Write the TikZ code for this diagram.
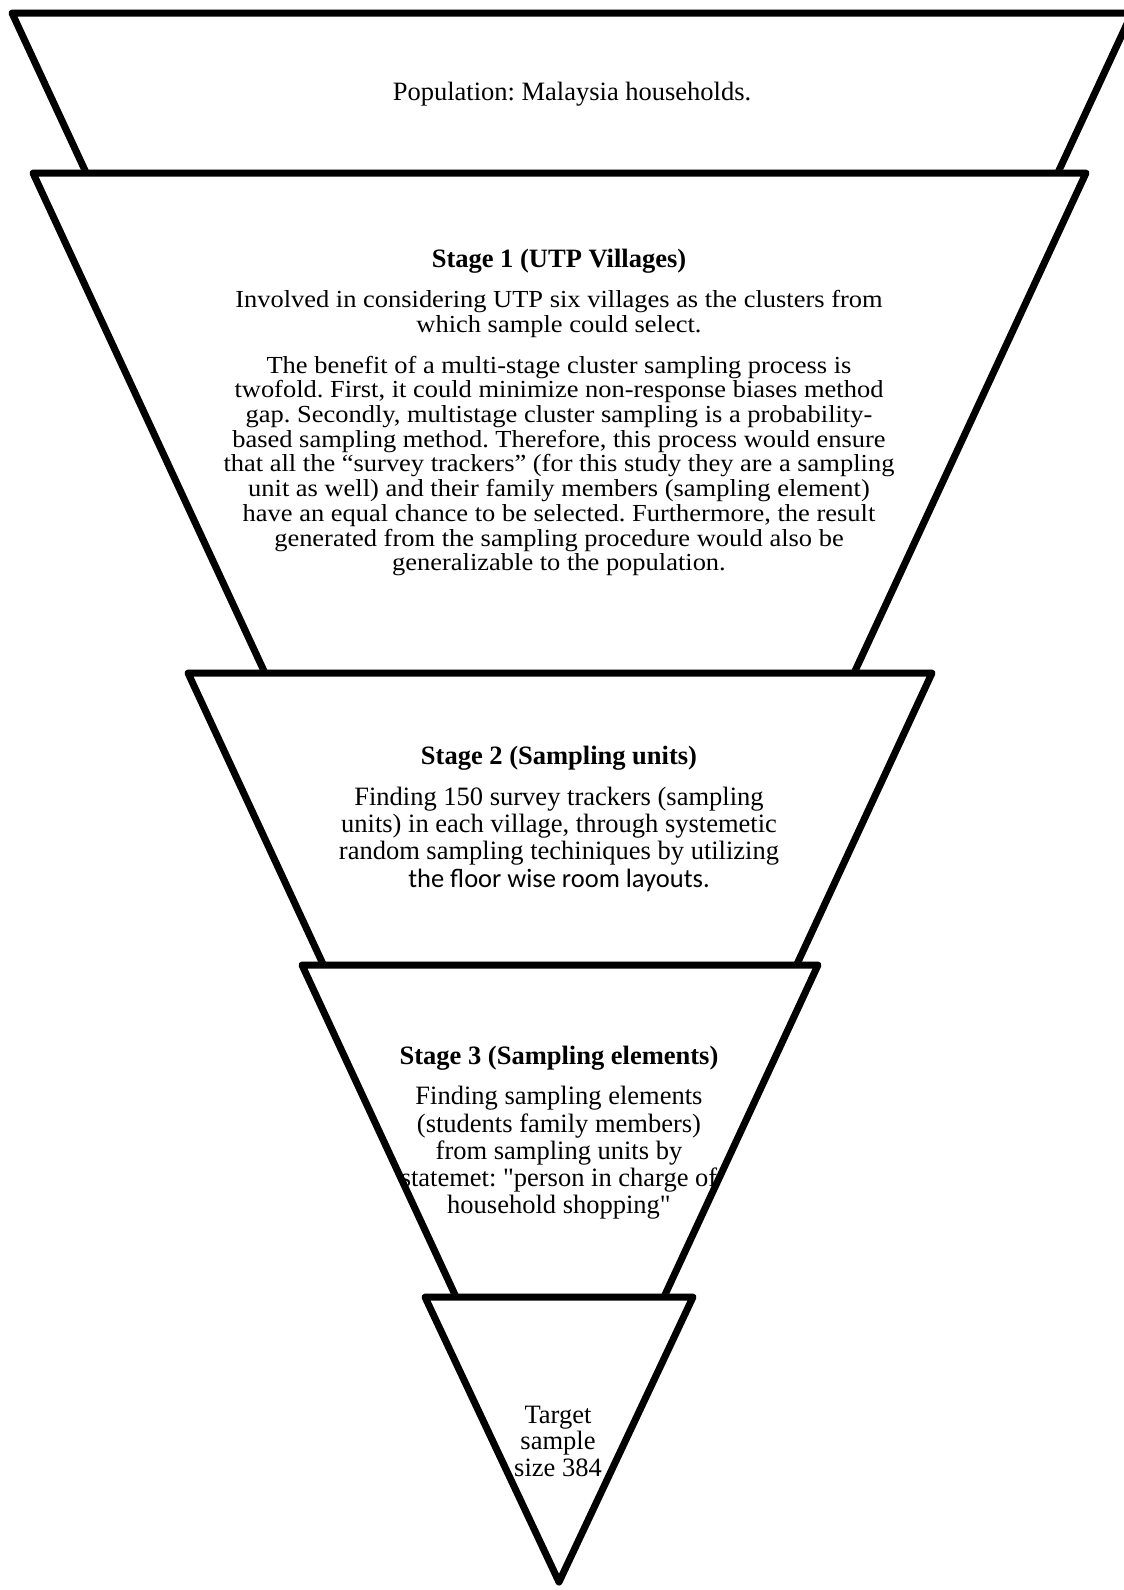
\documentclass[tikz,border=0pt]{standalone}
\usepackage{fontspec}
\setmainfont{Liberation Serif}[Ligatures=TeXOff]
\newfontfamily\wideserif{Liberation Serif}[Ligatures=TeXOff,FakeStretch=1.08]
\newfontfamily\sanslayout{Carlito}
\frenchspacing
\begin{document}
\begin{tikzpicture}[x=1pt,y=-1pt,
  layerfill/.style={fill=white},
  layeredge/.style={draw=black,line width=7pt,line join=round},
  layershadow/.style={draw=black!35,fill=black!35,line width=7pt,line join=round,opacity=0.35},
  bodytext/.style={font=\fontsize{26.5}{24.7}\selectfont,align=center,inner sep=0pt},
  densetext/.style={font=\wideserif\fontsize{24.5}{24.7}\selectfont,align=center,inner sep=0pt},
  widetext/.style={font=\fontsize{26.5}{27.3}\selectfont,align=center,inner sep=0pt},
  headtext/.style={font=\fontsize{26.5}{27.3}\selectfont\bfseries,align=center,inner sep=0pt}]
\useasboundingbox (0,0) rectangle (1124,1590);

% corner points of the five stacked funnel layers
\coordinate (t1l) at (12,13);   \coordinate (t1r) at (1132,13); \coordinate (t1b) at (572,1220);
\coordinate (t2l) at (33,173);  \coordinate (t2r) at (1086,173); \coordinate (t2b) at (559.5,1308);
\coordinate (t3l) at (188,673); \coordinate (t3r) at (932,673);  \coordinate (t3b) at (560,1475);
\coordinate (t4l) at (302,965); \coordinate (t4r) at (818,965);  \coordinate (t4b) at (560,1521);
\coordinate (t5l) at (425,1297); \coordinate (t5r) at (693,1297); \coordinate (t5b) at (559,1582);

% layer 1: population
\path[layershadow,shift={(2.5,2.5)}] (t1l) -- (t1r) -- (t1b) -- cycle;
\path[layerfill] (t1l) -- (t1r) -- (t1b) -- cycle;
\node[bodytext] (pop) at (572,94) {Population: Malaysia households.};
\path[layeredge] (t1l) -- (t1r) -- (t1b) -- cycle;

% layer 2: stage 1
\path[layershadow,shift={(2.5,2.5)}] (t2l) -- (t2r) -- (t2b) -- cycle;
\path[layerfill] (t2l) -- (t2r) -- (t2b) -- cycle;
\node[headtext] (s1head) at (559,261) {Stage 1 (UTP Villages)};
\node[densetext] (s1a) at (559,314) {Involved in considering UTP six villages as the clusters from\\which sample could select.};
\node[densetext] (s1b) at (559,466) {The benefit of a multi-stage cluster sampling process is\\
twofold. First, it could minimize non-response biases method\\
gap. Secondly, multistage cluster sampling is a probability-\\
based sampling method. Therefore, this process would ensure\\
that all the “survey trackers” (for this study they are a sampling\\
unit as well) and their family members (sampling element)\\
have an equal chance to be selected. Furthermore, the result\\
generated from the sampling procedure would also be\\
generalizable to the population.};
\path[layeredge] (t2l) -- (t2r) -- (t2b) -- cycle;

% layer 3: stage 2
\path[layershadow,shift={(2.5,2.5)}] (t3l) -- (t3r) -- (t3b) -- cycle;
\path[layerfill] (t3l) -- (t3r) -- (t3b) -- cycle;
\node[headtext] (s2head) at (559,758) {Stage 2 (Sampling units)};
\node[widetext] (s2text) at (559,839) {Finding 150 survey trackers (sampling\\
units) in each village, through systemetic\\
random sampling techiniques by utilizing\\
{\sanslayout the floor wise room layouts.}};
\path[layeredge] (t3l) -- (t3r) -- (t3b) -- cycle;

% layer 4: stage 3
\path[layershadow,shift={(2.5,2.5)}] (t4l) -- (t4r) -- (t4b) -- cycle;
\path[layerfill] (t4l) -- (t4r) -- (t4b) -- cycle;
\node[headtext] (s3head) at (559,1058) {Stage 3 (Sampling elements)};
\node[widetext] (s3text) at (559,1153) {Finding sampling elements\\
(students family members)\\
from sampling units by\\
statemet: "person in charge of\\
household shopping"};
\path[layeredge] (t4l) -- (t4r) -- (t4b) -- cycle;

% layer 5: target sample
\path[layershadow,shift={(2.5,2.5)}] (t5l) -- (t5r) -- (t5b) -- cycle;
\path[layerfill] (t5l) -- (t5r) -- (t5b) -- cycle;
\node[widetext,font=\fontsize{26.5}{26.5}\selectfont] (target) at (558,1441) {Target\\sample\\size 384};
\path[layeredge] (t5l) -- (t5r) -- (t5b) -- cycle;
\end{tikzpicture}
\end{document}
